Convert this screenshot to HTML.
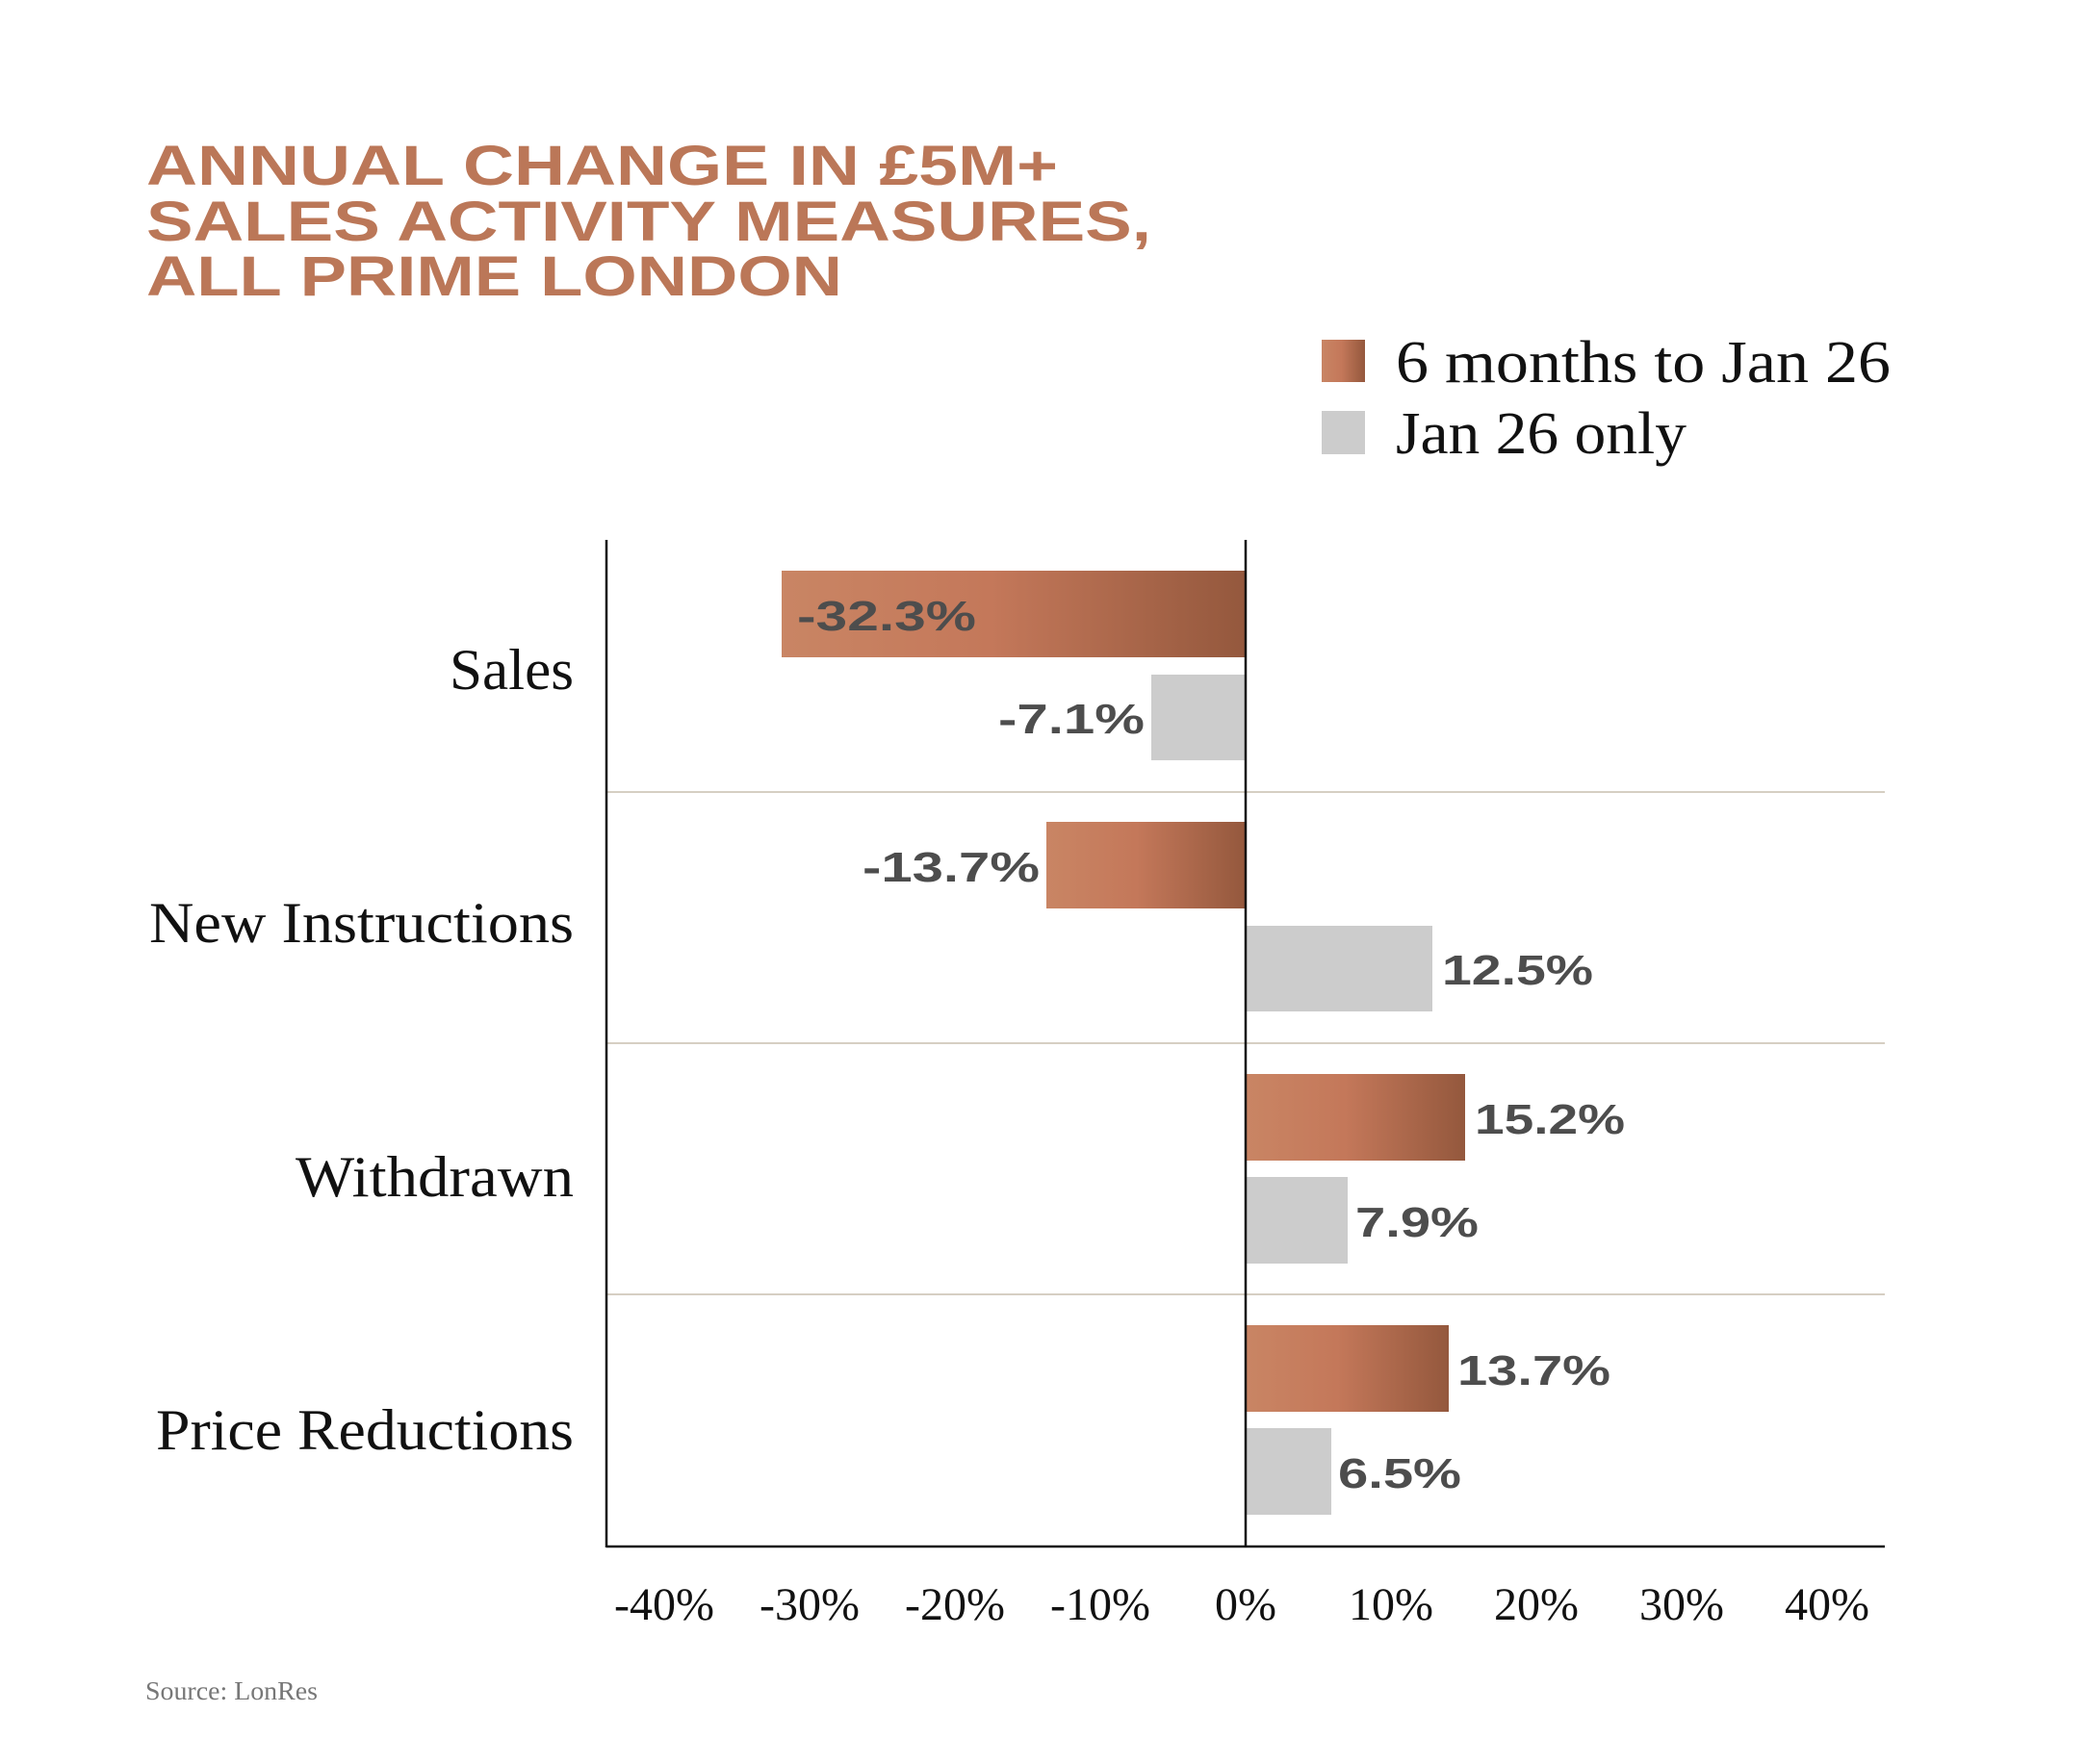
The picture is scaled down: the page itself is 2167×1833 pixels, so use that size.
<!DOCTYPE html>
<html><head><meta charset="utf-8"><style>
html,body{margin:0;padding:0;background:#fff;}
svg{display:block;}
.t{font-family:"Liberation Sans",sans-serif;font-weight:bold;fill:#bb7758;font-size:58px;}
.s{font-family:"Liberation Serif",serif;fill:#111;}
.v{font-family:"Liberation Sans",sans-serif;font-weight:bold;fill:#4d4d4d;font-size:44px;}
</style></head><body>
<svg width="2167" height="1833" viewBox="0 0 2167 1833" xmlns="http://www.w3.org/2000/svg">
<defs>
<linearGradient id="g" x1="0" y1="0" x2="1" y2="0">
<stop offset="0" stop-color="#c98564"/>
<stop offset="0.45" stop-color="#c4785a"/>
<stop offset="1" stop-color="#94583d"/>
</linearGradient>
</defs>
<rect width="2167" height="1833" fill="#fff"/>
<text class="t" x="152" y="192" textLength="947" lengthAdjust="spacingAndGlyphs">ANNUAL CHANGE IN £5M+</text>
<text class="t" x="152" y="250" textLength="1044" lengthAdjust="spacingAndGlyphs">SALES ACTIVITY MEASURES,</text>
<text class="t" x="152" y="307" textLength="723" lengthAdjust="spacingAndGlyphs">ALL PRIME LONDON</text>

<rect x="1373" y="353" width="45" height="44" fill="url(#g)"/>
<rect x="1373" y="427" width="45" height="45" fill="#cccccc"/>
<text class="s" x="1450" y="397" font-size="62" textLength="514" lengthAdjust="spacingAndGlyphs">6 months to Jan 26</text>
<text class="s" x="1450" y="471" font-size="62" textLength="302" lengthAdjust="spacingAndGlyphs">Jan 26 only</text>

<!-- gridlines -->
<g stroke="#d6cfc3" stroke-width="2">
<line x1="630" y1="823" x2="1958" y2="823"/>
<line x1="630" y1="1084" x2="1958" y2="1084"/>
<line x1="630" y1="1345" x2="1958" y2="1345"/>
</g>

<!-- bars -->
<rect x="812" y="593" width="482" height="90" fill="url(#g)"/>
<rect x="1196" y="701" width="98" height="89" fill="#cccccc"/>
<rect x="1087" y="854" width="207" height="90" fill="url(#g)"/>
<rect x="1294" y="962" width="194" height="89" fill="#cccccc"/>
<rect x="1294" y="1116" width="228" height="90" fill="url(#g)"/>
<rect x="1294" y="1223" width="106" height="90" fill="#cccccc"/>
<rect x="1294" y="1377" width="211" height="90" fill="url(#g)"/>
<rect x="1294" y="1484" width="89" height="90" fill="#cccccc"/>

<!-- axes -->
<g stroke="#111" stroke-width="2.5">
<line x1="630" y1="561" x2="630" y2="1608"/>
<line x1="1294" y1="561" x2="1294" y2="1608"/>
<line x1="630" y1="1607" x2="1958" y2="1607"/>
</g>

<!-- value labels -->
<text class="v" x="828" y="655" textLength="186" lengthAdjust="spacingAndGlyphs">-32.3%</text>
<text class="v" x="1037" y="762" textLength="152" lengthAdjust="spacingAndGlyphs">-7.1%</text>
<text class="v" x="896" y="916" textLength="184" lengthAdjust="spacingAndGlyphs">-13.7%</text>
<text class="v" x="1498" y="1023" textLength="157" lengthAdjust="spacingAndGlyphs">12.5%</text>
<text class="v" x="1532" y="1178" textLength="156" lengthAdjust="spacingAndGlyphs">15.2%</text>
<text class="v" x="1408" y="1285" textLength="128" lengthAdjust="spacingAndGlyphs">7.9%</text>
<text class="v" x="1514" y="1439" textLength="159" lengthAdjust="spacingAndGlyphs">13.7%</text>
<text class="v" x="1390" y="1546" textLength="128" lengthAdjust="spacingAndGlyphs">6.5%</text>

<!-- category labels -->
<g class="s" font-size="60" text-anchor="end">
<text x="596" y="716" textLength="129" lengthAdjust="spacingAndGlyphs">Sales</text>
<text x="596" y="979" textLength="441" lengthAdjust="spacingAndGlyphs">New Instructions</text>
<text x="596" y="1243" textLength="289" lengthAdjust="spacingAndGlyphs">Withdrawn</text>
<text x="596" y="1506" textLength="434" lengthAdjust="spacingAndGlyphs">Price Reductions</text>
</g>

<!-- ticks -->
<g class="s" font-size="48" text-anchor="middle">
<text x="690" y="1683">-40%</text>
<text x="841" y="1683">-30%</text>
<text x="992" y="1683">-20%</text>
<text x="1143" y="1683">-10%</text>
<text x="1294" y="1683">0%</text>
<text x="1445" y="1683">10%</text>
<text x="1596" y="1683">20%</text>
<text x="1747" y="1683">30%</text>
<text x="1898" y="1683">40%</text>
</g>

<text x="151" y="1766" font-family="Liberation Serif, serif" font-size="27" fill="#777" textLength="179" lengthAdjust="spacingAndGlyphs">Source: LonRes</text>
</svg>
</body></html>
